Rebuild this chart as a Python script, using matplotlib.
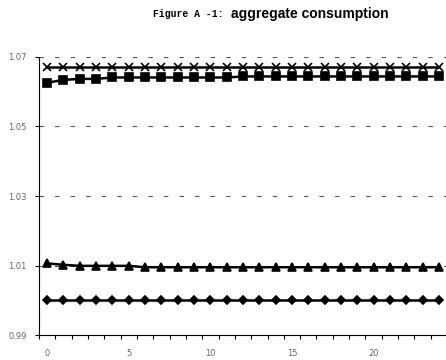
import numpy as np
import matplotlib
matplotlib.use("Agg")
import matplotlib.pyplot as plt

periods = list(range(25))
cross = [1.0671] * 25
square = [1.0626, 1.0634, 1.0637, 1.0637, 1.0641, 1.0641, 1.0641, 1.0641, 1.0641,
          1.0641, 1.0641, 1.0641] + [1.0644] * 13
triangle = [1.0106, 1.0102, 1.0099, 1.0099, 1.0099, 1.0099] + [1.0095] * 19
diamond = [1.0001] * 25

yticks = [0.99, 1.01, 1.03, 1.05, 1.07]
xticks = [0, 5, 10, 15, 20]

fig = plt.figure(figsize=(4.46, 3.6), dpi=100)
ax = fig.add_axes([0.0874, 0.0694, 0.915, 0.7723])

for vals, m, ms in [(cross, "x", 6), (square, "s", 5.5), (triangle, "^", 6), (diamond, "D", 4.5)]:
    ax.plot(periods, vals, color="black", lw=1.8, marker=m, ms=ms, mew=1.2, clip_on=False)

ax.set_xlim(-0.5, 24.5)
ax.set_ylim(0.99, 1.07)
ax.set_yticks(yticks)
ax.set_yticklabels(["0.99", "1.01", "1.03", "1.05", "1.07"])
ax.set_xticks(np.arange(-0.5, 25, 1))
ax.set_xticklabels([])
ax.set_xticks(xticks, minor=True)
ax.set_xticklabels([str(t) for t in xticks], minor=True)
ax.tick_params(axis="x", which="minor", length=0, pad=10, labelsize=6, labelcolor="#666666")
ax.tick_params(axis="x", which="major", length=3, width=0.8, direction="out")
ax.tick_params(axis="y", length=3, width=0.8, direction="out", labelsize=6, labelcolor="#666666", pad=6)

for y in yticks[1:]:
    ax.axhline(y, color="#555555", lw=0.8, ls=(0, (4, 10)), zorder=0)

for s in ["top", "right"]:
    ax.spines[s].set_visible(False)
ax.spines["left"].set_linewidth(0.8)
ax.spines["bottom"].set_linewidth(0.8)

fig.text(0.502, 0.962, "Figure A -1:", family="Liberation Mono", fontsize=7,
         weight="bold", ha="right", va="center")
fig.text(0.518, 0.962, "aggregate consumption", family="Liberation Sans", fontsize=10,
         weight="bold", ha="left", va="center")

plt.savefig("out.png", dpi=100)
plt.close()
